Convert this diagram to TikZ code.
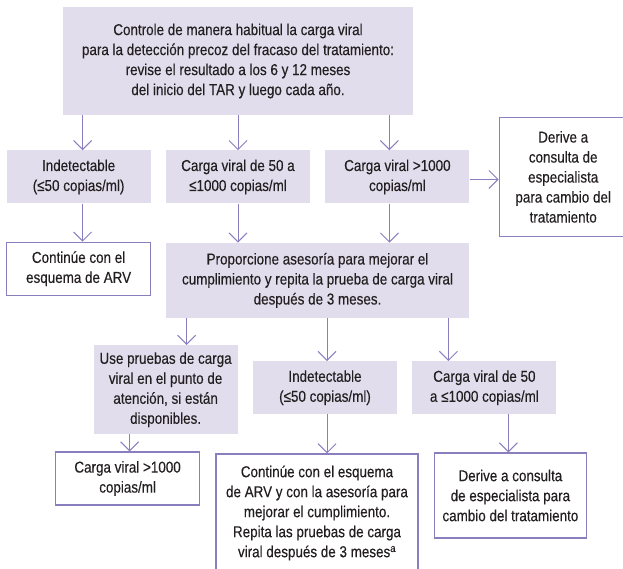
\documentclass[tikz,border=0pt]{standalone}
\usepackage{fontspec}
\setmainfont[FakeStretch=0.85, FakeBold=0.3]{Liberation Sans}
\usepackage{xcolor}
\usepackage{tikz}
\usetikzlibrary{arrows.meta, positioning}
\definecolor{lilac}{HTML}{E2DDED}
\definecolor{flowline}{HTML}{8A7EBF}
\definecolor{inkgray}{HTML}{231F20}

\begin{document}
\begin{tikzpicture}[
  x=1pt, y=1pt,
  node distance=35pt and 15pt,
  font=\fontsize{15.8}{20}\selectfont,
  fillbox/.style={rectangle, fill=lilac, text=inkgray, align=center, inner sep=2pt,
                  minimum width=144pt, minimum height=53pt},
  linebox/.style={rectangle, draw=flowline, line width=1.2pt, fill=white, text=inkgray,
                  align=center, inner sep=2pt, minimum width=144pt, minimum height=53pt},
  arr/.style={-{Straight Barb[length=9pt, width=18pt]}, draw=flowline, line width=1pt},
]
\useasboundingbox (0,0) rectangle (623,-568);

\node[fillbox, minimum width=350pt, minimum height=108pt] (monitor) at (238,-61)
  {Controle de manera habitual la carga viral\\para la detección precoz del fracaso del tratamiento:\\revise el resultado a los 6 y 12 meses\\del inicio del TAR y luego cada año.};
\node[fillbox, below=35pt of monitor] (mid50) {Carga viral de 50 a\\≤1000 copias/ml};
\node[fillbox, left=15pt of mid50] (undet) {Indetectable\\(≤50 copias/ml)};
\node[fillbox, right=15pt of mid50] (high) {Carga viral >1000\\copias/ml};
\node[linebox, right=29pt of high, minimum width=128pt, minimum height=119pt] (refer)
  {Derive a\\consulta de\\especialista\\para cambio del\\tratamiento};
\node[linebox, below=38pt of undet] (keep) {Continúe con el\\esquema de ARV};
\node[fillbox, below=39pt of mid50.south west, anchor=north west, minimum width=303pt,
      minimum height=75pt] (advice)
  {Proporcione asesoría para mejorar el\\cumplimiento y repita la prueba de carga viral\\después de 3 meses.};
\node[fillbox, below=43pt of advice, xshift=7.5pt] (undet2) {Indetectable\\(≤50 copias/ml)};
\node[fillbox, right=15pt of undet2] (mid502) {Carga viral de 50\\a ≤1000 copias/ml};
\node[fillbox, left=15pt of undet2.north west, anchor=north east, yshift=16pt,
      minimum height=89pt] (poc)
  {Use pruebas de carga\\viral en el punto de\\atención, si están\\disponibles.};
\node[linebox, below=17pt of poc, xshift=-38pt] (high2) {Carga viral >1000\\copias/ml};
\node[linebox, below=39pt of undet2, xshift=-8pt, minimum width=202pt, minimum height=118pt] (keep2)
  {Continúe con el esquema\\de ARV y con la asesoría para\\mejorar el cumplimiento.\\Repita las pruebas de carga\\viral después de 3 meses\textsuperscript{a}};
\node[linebox, below=38pt of mid502, xshift=26pt, minimum width=152pt, minimum height=85pt] (refer2)
  {Derive a consulta\\de especialista para\\cambio del tratamiento};

\draw[arr] ([xshift=4pt]undet.north |- monitor.south) -- ([xshift=4pt]undet.north);
\draw[arr] (mid50.north |- monitor.south) -- (mid50.north);
\draw[arr] ([xshift=-8pt]high.north |- monitor.south) -- ([xshift=-8pt]high.north);
\draw[arr] ([yshift=-2.5pt]high.east) -- ([yshift=-2.5pt]refer.west);
\draw[arr] ([xshift=4pt]undet.south) -- ([xshift=4pt]keep.north);
\draw[arr] (mid50.south) -- (mid50.south |- advice.north);
\draw[arr] ([xshift=-8pt]high.south) -- ([xshift=-8pt]high.south |- advice.north);
\draw[arr] ([xshift=21pt]poc.north |- advice.south) -- ([xshift=21pt]poc.north);
\draw[arr] ([xshift=2pt]undet2.north |- advice.south) -- ([xshift=2pt]undet2.north);
\draw[arr] ([xshift=-36pt]mid502.north |- advice.south) -- ([xshift=-36pt]mid502.north);
\draw[arr] ([xshift=2pt]high2.north |- poc.south) -- ([xshift=2pt]high2.north);
\draw[arr] ([xshift=2pt]undet2.south) -- ([xshift=2pt]undet2.south |- keep2.north);
\draw[arr] ([xshift=-2pt]refer2.north |- mid502.south) -- ([xshift=-2pt]refer2.north);
\end{tikzpicture}
\end{document}
